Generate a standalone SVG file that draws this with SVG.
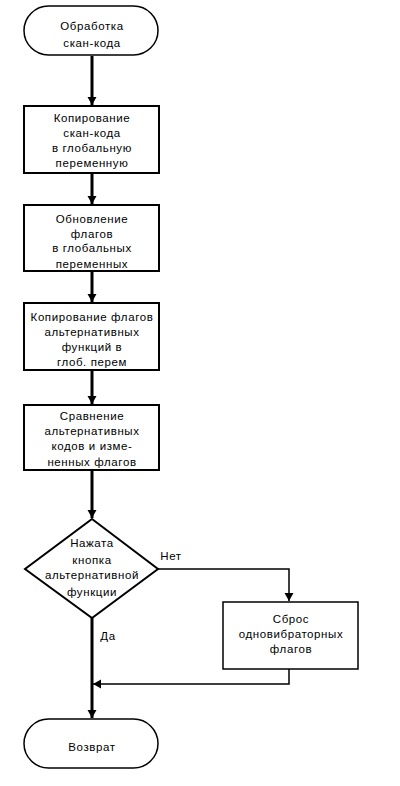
<svg xmlns="http://www.w3.org/2000/svg" width="400" height="786" viewBox="0 0 400 786">
<defs>
<marker id="ah" markerUnits="userSpaceOnUse" markerWidth="10" markerHeight="10" refX="8" refY="5" orient="auto" viewBox="0 0 10 10">
<path d="M0,0.5 L8,5 L0,9.5 Z" fill="#000"/>
</marker>
</defs>
<style>
.t{font-family:"Liberation Sans",Arial,sans-serif;font-size:11.5px;letter-spacing:0.6px;fill:#000;text-anchor:middle}
.b{fill:#fff;stroke:#000;stroke-width:2}
.b1{fill:#fff;stroke:#000;stroke-width:1.5}
.m{fill:none;stroke:#000;stroke-width:3}
.n{fill:none;stroke:#000;stroke-width:1.5}
</style>
<rect width="400" height="786" fill="#fff"/>
<g id="connectors">
<line class="m" x1="92" y1="56" x2="92" y2="105" marker-end="url(#ah)"/>
<line class="m" x1="92" y1="173" x2="92" y2="204" marker-end="url(#ah)"/>
<line class="m" x1="92" y1="271" x2="92" y2="302" marker-end="url(#ah)"/>
<line class="m" x1="92" y1="370" x2="92" y2="404" marker-end="url(#ah)"/>
<line class="m" x1="92" y1="470" x2="92" y2="518" marker-end="url(#ah)"/>
<polyline class="n" points="158,569 289,569 289,601" marker-end="url(#ah)"/>
<line class="m" x1="92" y1="618" x2="92" y2="718" marker-end="url(#ah)"/>
<polyline class="n" points="289,669 289,684 93,684" marker-end="url(#ah)"/>
<text class="t" x="171" y="560">Нет</text>
<text class="t" x="108" y="640">Да</text>
</g>
<g id="start">
<rect class="b1" x="24" y="6" width="134" height="49" rx="24.5"/>
<text class="t" x="92" y="30">Обработка</text>
<text class="t" x="92" y="47">скан-кода</text>
</g>
<g id="copy">
<rect class="b" x="24" y="106" width="135" height="67"/>
<text class="t" x="92" y="122">Копирование</text>
<text class="t" x="92" y="137">скан-кода</text>
<text class="t" x="92" y="152">в глобальную</text>
<text class="t" x="92" y="167">переменную</text>
</g>
<g id="update">
<rect class="b" x="24" y="205" width="135" height="66"/>
<text class="t" x="92" y="223">Обновление</text>
<text class="t" x="92" y="238">флагов</text>
<text class="t" x="92" y="252">в глобальных</text>
<text class="t" x="92" y="268">переменных</text>
</g>
<g id="copyflags">
<rect class="b" x="24" y="303" width="135" height="67"/>
<text class="t" x="92" y="321">Копирование флагов</text>
<text class="t" x="92" y="336">альтернативных</text>
<text class="t" x="92" y="351">функций в</text>
<text class="t" x="92" y="366">глоб. перем</text>
</g>
<g id="compare">
<rect class="b" x="24" y="405" width="135" height="65"/>
<text class="t" x="92" y="420">Сравнение</text>
<text class="t" x="92" y="435">альтернативных</text>
<text class="t" x="92" y="450">кодов и изме-</text>
<text class="t" x="92" y="466">ненных флагов</text>
</g>
<g id="decision">
<polygon class="b" points="92,519 158,569 92,618 25,569"/>
<text class="t" x="92" y="547">Нажата</text>
<text class="t" x="92" y="564">кнопка</text>
<text class="t" x="92" y="579">альтернативной</text>
<text class="t" x="92" y="596">функции</text>
</g>
<g id="reset">
<rect class="b1" x="223" y="602" width="135" height="67"/>
<text class="t" x="291" y="623">Сброс</text>
<text class="t" x="291" y="638">одновибраторных</text>
<text class="t" x="291" y="653">флагов</text>
</g>
<g id="return">
<rect class="b1" x="24" y="719" width="134" height="49" rx="24.5"/>
<text class="t" x="92" y="751">Возврат</text>
</g>
</svg>
